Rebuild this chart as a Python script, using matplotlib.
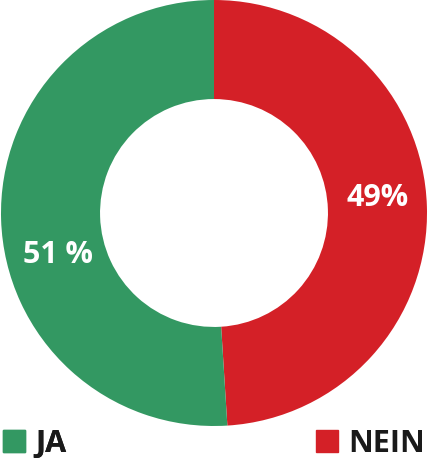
import matplotlib.pyplot as plt
import numpy as np
from matplotlib.patches import Patch

# Daten
labels = ['NEIN', 'JA']
values = [49, 51]
colors = ['#d42027', '#339862']
value_text = ['49%', '51 %']

plt.rcParams['font.family'] = ['Open Sans', 'DejaVu Sans']

fig = plt.figure(figsize=(4.28, 4.62), dpi=100)
ax = fig.add_axes([1 / 428, 36 / 462, 426 / 428, 426 / 462])

wedges, _ = ax.pie(values, colors=colors, startangle=90, counterclock=False,
                   radius=1.0, wedgeprops=dict(width=0.465, linewidth=0))
ax.set_xlim(-1, 1)
ax.set_ylim(-1, 1)
ax.set_aspect('equal')

# Beschriftungen (Winkel leicht verschoben wie im Original)
label_angles = [5.3, 195]
label_r = [0.77, 0.757]
for txt, ang, r in zip(value_text, label_angles, label_r):
    a = np.deg2rad(ang)
    ax.text(r * np.cos(a), r * np.sin(a), txt, ha='center', va='center',
            color='white', fontsize=22, fontweight='bold')

# Legende
fs = 22
leg1 = fig.legend(handles=[Patch(color=colors[1], label=labels[1])],
                  loc='lower left', bbox_to_anchor=(0, 0.0), frameon=False,
                  fontsize=fs, handlelength=0.72, handleheight=0.72,
                  handletextpad=0.33, borderaxespad=0, borderpad=0.1,
                  labelcolor='#1a1a1a')
fig.add_artist(leg1)
leg2 = fig.legend(handles=[Patch(color=colors[0], label=labels[0])],
                  loc='lower right', bbox_to_anchor=(1.0, 0.0), frameon=False,
                  fontsize=fs, handlelength=0.72, handleheight=0.72,
                  handletextpad=0.33, borderaxespad=0, borderpad=0.1,
                  labelcolor='#1a1a1a')
for leg in (leg1, leg2):
    for t in leg.get_texts():
        t.set_fontweight('bold')

fig.savefig('out.png', dpi=100)
